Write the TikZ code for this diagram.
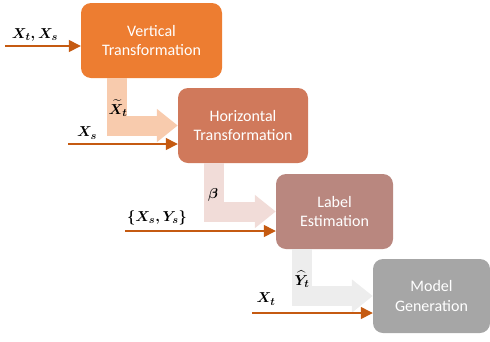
\documentclass[tikz,border=0pt]{standalone}
\usepackage{amsmath}
\usepackage{amssymb}
\usepackage{fontspec}
\setmainfont{Carlito}
\usepackage{tikz}
\usepackage{xcolor}
\usetikzlibrary{calc,arrows.meta}
\definecolor{vertcolor}{HTML}{ED7D31}
\definecolor{horcolor}{HTML}{D0795B}
\definecolor{labcolor}{HTML}{B9877F}
\definecolor{modcolor}{HTML}{A6A6A6}
\definecolor{inputcolor}{HTML}{C55A11}
\definecolor{fatcolora}{HTML}{F8CBAD}
\definecolor{fatcolorb}{HTML}{F1DCD8}
\definecolor{fatcolorc}{HTML}{EDEDED}
\tikzstyle{stagebox} =[
    rectangle,
    rounded corners=10pt,
    text=white,
    align=center,
    font=\fontsize{16}{19.5}\selectfont,
    minimum height=75pt
    ]
\tikzstyle{fatarrow} =[
    line width=20pt,
    -{Triangle[width=32pt,length=21pt]}
    ]
\tikzstyle{inarrow} =[
    draw=inputcolor,
    line width=1.4pt,
    -{Triangle[width=12pt,length=12pt]}
    ]
\tikzstyle{varlabel} =[
    inner sep=0pt,
    font=\fontsize{15}{18}\selectfont
    ]

\begin{document}
\begin{tikzpicture}[x=1pt,y=-1pt]
\useasboundingbox (0,0) rectangle (490,341);

% stages
\node [stagebox, fill=vertcolor, minimum width=141pt] (vt) at (151.5,40.5) {Vertical\\Transformation};
\node [stagebox, fill=horcolor, minimum width=130pt] (ht) at (243,125.5) {Horizontal\\Transformation};
\node [stagebox, fill=labcolor, minimum width=117pt] (le) at (334.5,211.5) {Label\\Estimation};
\node [stagebox, fill=modcolor, minimum width=117pt, minimum height=74pt] (mg) at (431.5,296) {Model\\Generation};

% outputs passed on
\draw [fatarrow, fatcolora] ($(vt.south west)+(36,0)$) |- (ht.west);
\draw [fatarrow, fatcolorb] ($(ht.south west)+(36,0)$) |- (le.west);
\draw [fatarrow, fatcolorc] ($(le.south west)+(26,0)$) |- (mg.west);
\node [varlabel] (xtilde) at (118,108) {$\boldsymbol{\widetilde{X}_t}$};
\node [varlabel] (beta) at (213,195) {$\boldsymbol{\beta}$};
\node [varlabel] (yhat) at (302,279) {$\boldsymbol{\widehat{Y}_t}$};

% inputs
\coordinate (ina) at (5,46);
\coordinate (inb) at (68,144);
\coordinate (inc) at (125,231);
\coordinate (ind) at (252,313);
\draw [inarrow] (ina) -- (vt.west |- ina);
\draw [inarrow] (inb) -- (ht.west |- inb);
\draw [inarrow] (inc) -- (le.west |- inc);
\draw [inarrow] (ind) -- (mg.west |- ind);
\node [varlabel] (xtxs) at (35,35) {$\boldsymbol{X_t, X_s}$};
\node [varlabel] (xs) at (87,133) {$\boldsymbol{X_s}$};
\node [varlabel] (xsys) at (157,218) {$\boldsymbol{\{X_s, Y_s\}}$};
\node [varlabel] (xt) at (266,299) {$\boldsymbol{X_t}$};
\end{tikzpicture}
\end{document}
